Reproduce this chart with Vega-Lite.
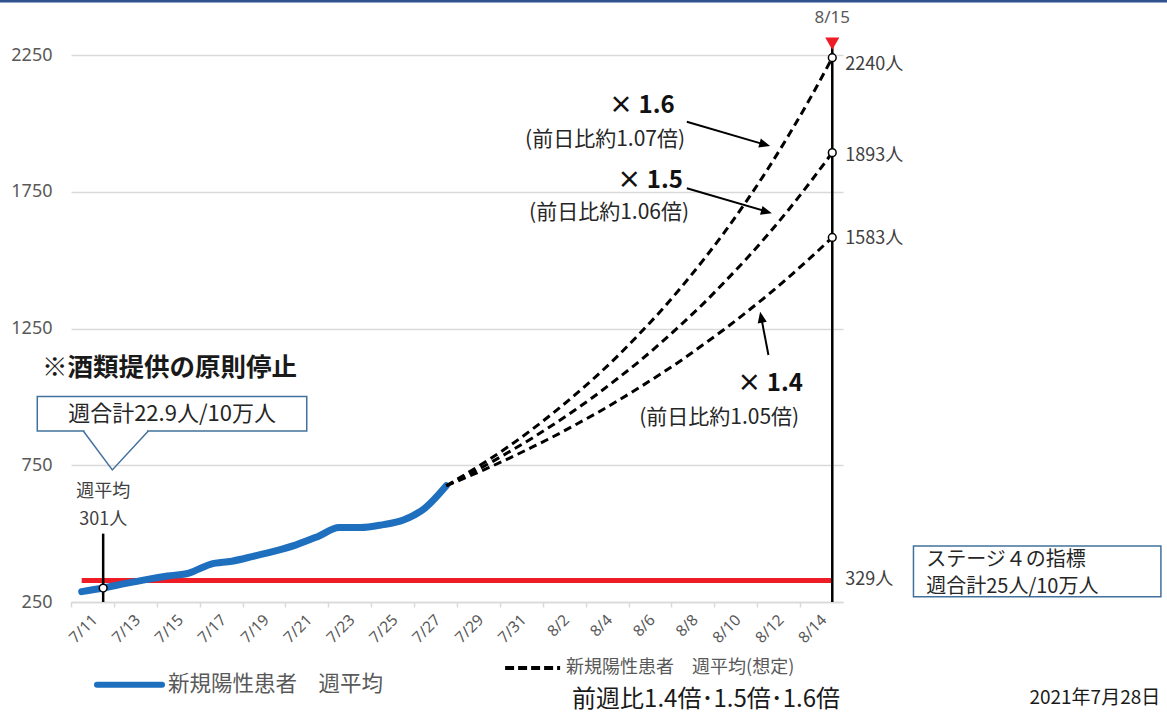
{
  "$schema": "https://vega.github.io/schema/vega-lite/v6.json",
  "width": 772,
  "height": 547,
  "autosize": {"type": "none"},
  "padding": {"left": 71, "top": 55, "right": 324, "bottom": 113},
  "background": "white",
  "config": {"view": {"stroke": null}, "font": "Noto Sans CJK JP"},
  "encoding": {
    "x": {
      "field": "date", "type": "temporal",
      "scale": {"type": "utc", "domain": [{"year": 2021, "month": 7, "date": 10, "hours": 12, "utc": true}, {"year": 2021, "month": 8, "date": 15, "hours": 12, "utc": true}]},
      "axis": {
        "values": [
          {"year": 2021, "month": 7, "date": 11, "utc": true},
          {"year": 2021, "month": 7, "date": 13, "utc": true},
          {"year": 2021, "month": 7, "date": 15, "utc": true},
          {"year": 2021, "month": 7, "date": 17, "utc": true},
          {"year": 2021, "month": 7, "date": 19, "utc": true},
          {"year": 2021, "month": 7, "date": 21, "utc": true},
          {"year": 2021, "month": 7, "date": 23, "utc": true},
          {"year": 2021, "month": 7, "date": 25, "utc": true},
          {"year": 2021, "month": 7, "date": 27, "utc": true},
          {"year": 2021, "month": 7, "date": 29, "utc": true},
          {"year": 2021, "month": 7, "date": 31, "utc": true},
          {"year": 2021, "month": 8, "date": 2, "utc": true},
          {"year": 2021, "month": 8, "date": 4, "utc": true},
          {"year": 2021, "month": 8, "date": 6, "utc": true},
          {"year": 2021, "month": 8, "date": 8, "utc": true},
          {"year": 2021, "month": 8, "date": 10, "utc": true},
          {"year": 2021, "month": 8, "date": 12, "utc": true},
          {"year": 2021, "month": 8, "date": 14, "utc": true}
        ],
        "labelExpr": "utcFormat(datum.value, '%-m/%-d')",
        "labelAngle": -45,
        "labelFontSize": 15.5,
        "labelColor": "#595959",
        "labelFont": "Noto Sans",
        "labelOverlap": false,
        "labelFlush": false,
        "labelBound": false,
        "tickOffset": -10.72,
        "labelOffset": 18.5,
        "tickColor": "#D9D9D9",
        "tickSize": 5,
        "tickWidth": 1.5,
        "domainColor": "#D9D9D9",
        "domainWidth": 1.5,
        "grid": false,
        "title": null,
        "labelPadding": 5
      }
    },
    "y": {
      "field": "v", "type": "quantitative",
      "scale": {"domain": [250, 2250], "nice": false, "zero": false},
      "axis": {
        "values": [250, 750, 1250, 1750, 2250],
        "format": "d",
        "grid": true, "gridColor": "#D9D9D9", "gridWidth": 1.5,
        "domain": false, "ticks": false,
        "labelPadding": 19, "labelFontSize": 18, "labelColor": "#595959", "labelFont": "Noto Sans",
        "title": null
      }
    }
  },
  "layer": [
    {
      "data": {"values": [{"date": "2021-07-07T04:32:00Z", "date2": "2021-08-31T14:53:00Z", "v": 2447}]},
      "mark": {"type": "rule", "color": "#2F528F", "strokeWidth": 3},
      "encoding": {"x2": {"field": "date2"}}
    },
    {
      "data": {"values": [{"date": "2021-07-11", "v": 329}, {"date": "2021-08-15", "v": 329}]},
      "mark": {"type": "line", "color": "#EE1C25", "strokeWidth": 5},
      "encoding": {}
    },
    {
      "data": {"values": [
        {"date": "2021-07-11", "v": 288},
        {"date": "2021-07-12", "v": 301},
        {"date": "2021-07-13", "v": 317},
        {"date": "2021-07-14", "v": 332},
        {"date": "2021-07-15", "v": 345},
        {"date": "2021-07-16", "v": 356},
        {"date": "2021-07-17", "v": 388},
        {"date": "2021-07-18", "v": 399},
        {"date": "2021-07-19", "v": 417},
        {"date": "2021-07-20", "v": 436},
        {"date": "2021-07-21", "v": 459},
        {"date": "2021-07-22", "v": 489},
        {"date": "2021-07-23", "v": 522},
        {"date": "2021-07-24", "v": 522},
        {"date": "2021-07-25", "v": 532},
        {"date": "2021-07-26", "v": 550},
        {"date": "2021-07-27", "v": 593},
        {"date": "2021-07-28", "v": 675}
      ]},
      "mark": {"type": "line", "color": "#1F6FBF", "strokeWidth": 7, "strokeCap": "round", "strokeJoin": "round", "interpolate": "monotone"},
      "encoding": {}
    },
    {
      "data": {"values": [
        {"s": "1.6", "date": "2021-07-28", "v": 675}, {"s": "1.6", "date": "2021-07-29", "v": 722}, {"s": "1.6", "date": "2021-07-30", "v": 771}, {"s": "1.6", "date": "2021-07-31", "v": 824}, {"s": "1.6", "date": "2021-08-01", "v": 881}, {"s": "1.6", "date": "2021-08-02", "v": 942}, {"s": "1.6", "date": "2021-08-03", "v": 1007}, {"s": "1.6", "date": "2021-08-04", "v": 1076}, {"s": "1.6", "date": "2021-08-05", "v": 1150}, {"s": "1.6", "date": "2021-08-06", "v": 1230}, {"s": "1.6", "date": "2021-08-07", "v": 1314}, {"s": "1.6", "date": "2021-08-08", "v": 1405}, {"s": "1.6", "date": "2021-08-09", "v": 1502}, {"s": "1.6", "date": "2021-08-10", "v": 1605}, {"s": "1.6", "date": "2021-08-11", "v": 1716}, {"s": "1.6", "date": "2021-08-12", "v": 1834}, {"s": "1.6", "date": "2021-08-13", "v": 1961}, {"s": "1.6", "date": "2021-08-14", "v": 2096}, {"s": "1.6", "date": "2021-08-15", "v": 2240},
        {"s": "1.5", "date": "2021-07-28", "v": 675}, {"s": "1.5", "date": "2021-07-29", "v": 715}, {"s": "1.5", "date": "2021-07-30", "v": 757}, {"s": "1.5", "date": "2021-07-31", "v": 802}, {"s": "1.5", "date": "2021-08-01", "v": 849}, {"s": "1.5", "date": "2021-08-02", "v": 899}, {"s": "1.5", "date": "2021-08-03", "v": 952}, {"s": "1.5", "date": "2021-08-04", "v": 1008}, {"s": "1.5", "date": "2021-08-05", "v": 1068}, {"s": "1.5", "date": "2021-08-06", "v": 1130}, {"s": "1.5", "date": "2021-08-07", "v": 1197}, {"s": "1.5", "date": "2021-08-08", "v": 1268}, {"s": "1.5", "date": "2021-08-09", "v": 1342}, {"s": "1.5", "date": "2021-08-10", "v": 1422}, {"s": "1.5", "date": "2021-08-11", "v": 1505}, {"s": "1.5", "date": "2021-08-12", "v": 1594}, {"s": "1.5", "date": "2021-08-13", "v": 1688}, {"s": "1.5", "date": "2021-08-14", "v": 1788}, {"s": "1.5", "date": "2021-08-15", "v": 1893},
        {"s": "1.4", "date": "2021-07-28", "v": 675}, {"s": "1.4", "date": "2021-07-29", "v": 708}, {"s": "1.4", "date": "2021-07-30", "v": 742}, {"s": "1.4", "date": "2021-07-31", "v": 778}, {"s": "1.4", "date": "2021-08-01", "v": 816}, {"s": "1.4", "date": "2021-08-02", "v": 855}, {"s": "1.4", "date": "2021-08-03", "v": 897}, {"s": "1.4", "date": "2021-08-04", "v": 940}, {"s": "1.4", "date": "2021-08-05", "v": 986}, {"s": "1.4", "date": "2021-08-06", "v": 1034}, {"s": "1.4", "date": "2021-08-07", "v": 1084}, {"s": "1.4", "date": "2021-08-08", "v": 1136}, {"s": "1.4", "date": "2021-08-09", "v": 1192}, {"s": "1.4", "date": "2021-08-10", "v": 1249}, {"s": "1.4", "date": "2021-08-11", "v": 1310}, {"s": "1.4", "date": "2021-08-12", "v": 1373}, {"s": "1.4", "date": "2021-08-13", "v": 1440}, {"s": "1.4", "date": "2021-08-14", "v": 1510}, {"s": "1.4", "date": "2021-08-15", "v": 1583}
      ]},
      "mark": {"type": "line", "color": "black", "strokeWidth": 3, "strokeDash": [8, 5], "interpolate": "monotone"},
      "encoding": {"detail": {"field": "s", "type": "nominal"}}
    },
    {
      "data": {"values": [{"date": "2021-08-15", "v": 250, "v2": 2292}, {"date": "2021-07-12", "v": 250, "v2": 500}]},
      "mark": {"type": "rule", "color": "black", "strokeWidth": 2.5},
      "encoding": {"y2": {"field": "v2"}}
    },
    {
      "data": {"values": [{"date": "2021-08-15", "v": 2292}]},
      "mark": {"type": "point", "shape": "triangle-down", "filled": true, "color": "#EE1C25", "size": 200, "opacity": 1},
      "encoding": {}
    },
    {
      "data": {"values": [{"date": "2021-08-15", "v": 2240}, {"date": "2021-08-15", "v": 1893}, {"date": "2021-08-15", "v": 1583}, {"date": "2021-07-12", "v": 301}]},
      "mark": {"type": "point", "shape": "circle", "filled": false, "fill": "white", "stroke": "black", "strokeWidth": 1.5, "size": 60, "opacity": 1, "fillOpacity": 1},
      "encoding": {}
    },
    {
      "data": {"values": [{"date": "2021-08-15", "v": 2212, "label": "2240人"}, {"date": "2021-08-15", "v": 1881, "label": "1893人"}, {"date": "2021-08-15", "v": 1577, "label": "1583人"}, {"date": "2021-08-15", "v": 330, "label": "329人"}]},
      "mark": {"type": "text", "align": "left", "dx": 13, "fontSize": 18, "color": "#404040"},
      "encoding": {"text": {"field": "label"}}
    },
    {
      "data": {"values": [{"date": "2021-08-15", "v": 2385, "label": "8/15"}]},
      "mark": {"type": "text", "align": "center", "fontSize": 17, "color": "#595959", "font": "Noto Sans"},
      "encoding": {"text": {"field": "label"}}
    },
    {
      "data": {"values": [{"date": "2021-07-12", "v": 652, "label": "週平均"}, {"date": "2021-07-12", "v": 550, "label": "301人"}]},
      "mark": {"type": "text", "align": "center", "fontSize": 18, "color": "#404040"},
      "encoding": {"text": {"field": "label"}}
    },
    {
      "data": {"values": [{"date": "2021-07-09T03:32:00Z", "v": 1106, "label": "※酒類提供の原則停止"}]},
      "mark": {"type": "text", "align": "left", "fontSize": 25.5, "fontWeight": "bold", "color": "#1A1A1A"},
      "encoding": {"text": {"field": "label"}}
    },
    {
      "data": {"values": [{"date": "2021-07-08T22:16:00Z", "date2": "2021-07-21T11:50:00Z", "v": 875, "v2": 1001}]},
      "mark": {"type": "rect", "fill": "white", "stroke": "#41719C", "strokeWidth": 1.5},
      "encoding": {"x2": {"field": "date2"}, "y2": {"field": "v2"}}
    },
    {
      "data": {"values": [{"date": "2021-07-11T03:07:00Z", "date2": "2021-07-14T01:05:00Z", "v": 875}]},
      "mark": {"type": "rule", "color": "white", "strokeWidth": 3},
      "encoding": {"x2": {"field": "date2"}}
    },
    {
      "data": {"values": [{"date": "2021-07-11T01:46:00Z", "v": 875, "o": 1}, {"date": "2021-07-12T10:14:00Z", "v": 733, "o": 2}, {"date": "2021-07-14T02:31:00Z", "v": 875, "o": 3}]},
      "mark": {"type": "line", "color": "#41719C", "strokeWidth": 1.5},
      "encoding": {"order": {"field": "o", "type": "quantitative"}}
    },
    {
      "data": {"values": [{"date": "2021-07-15T05:04:00Z", "v": 937, "label": "週合計22.9人/10万人"}]},
      "mark": {"type": "text", "align": "center", "fontSize": 22, "color": "#262626"},
      "encoding": {"text": {"field": "label"}}
    },
    {
      "data": {"values": [{"date": "2021-08-18T18:52:00Z", "date2": "2021-08-30T07:48:00Z", "v": 269, "v2": 455}]},
      "mark": {"type": "rect", "fill": "white", "stroke": "#41719C", "strokeWidth": 1.5},
      "encoding": {"x2": {"field": "date2"}, "y2": {"field": "v2"}}
    },
    {
      "data": {"values": [{"date": "2021-08-19T09:06:00Z", "v": 404, "label": "ステージ４の指標"}, {"date": "2021-08-19T09:06:00Z", "v": 306, "label": "週合計25人/10万人"}]},
      "mark": {"type": "text", "align": "left", "fontSize": 20, "color": "#262626"},
      "encoding": {"text": {"field": "label"}}
    },
    {
      "data": {"values": [{"date": "2021-08-06T02:51:00Z", "v": 2064, "label": "× 1.6"}, {"date": "2021-08-06T12:09:00Z", "v": 1790, "label": "× 1.5"}, {"date": "2021-08-12T02:28:00Z", "v": 1046, "label": "× 1.4"}]},
      "mark": {"type": "text", "align": "center", "fontSize": 24, "fontWeight": "bold", "color": "#111111"},
      "encoding": {"text": {"field": "label"}}
    },
    {
      "data": {"values": [{"date": "2021-08-04T09:46:00Z", "v": 1941, "label": "(前日比約1.07倍)"}, {"date": "2021-08-04T14:14:00Z", "v": 1673, "label": "(前日比約1.06倍)"}, {"date": "2021-08-09T17:23:00Z", "v": 924, "label": "(前日比約1.05倍)"}]},
      "mark": {"type": "text", "align": "center", "fontSize": 21, "color": "#262626"},
      "encoding": {"text": {"field": "label"}}
    },
    {
      "data": {"values": [
        {"date": "2021-08-08T05:12:00Z", "v": 2006, "date2": "2021-08-11T17:46:00Z", "v2": 1925},
        {"date": "2021-08-08T05:12:00Z", "v": 1763, "date2": "2021-08-11T20:52:00Z", "v2": 1679},
        {"date": "2021-08-12T00:33:00Z", "v": 1153, "date2": "2021-08-11T16:44:00Z", "v2": 1286}
      ]},
      "mark": {"type": "rule", "color": "black", "strokeWidth": 2},
      "encoding": {"x2": {"field": "date2"}, "y2": {"field": "v2"}}
    },
    {
      "data": {"values": [{"date": "2021-08-12T02:28:00Z", "v": 1917}, {"date": "2021-08-12T04:22:00Z", "v": 1671}]},
      "mark": {"type": "point", "shape": "M0,0L-1,-0.42L-1,0.42Z", "filled": true, "color": "black", "size": 484, "opacity": 1, "angle": 16},
      "encoding": {}
    },
    {
      "data": {"values": [{"date": "2021-08-11T15:16:00Z", "v": 1311}]},
      "mark": {"type": "point", "shape": "M0,0L-1,-0.42L-1,0.42Z", "filled": true, "color": "black", "size": 484, "opacity": 1, "angle": 259},
      "encoding": {}
    },
    {
      "data": {"values": [{"date": "2021-07-11T17:07:00Z", "date2": "2021-07-14T17:52:00Z", "v": -53}]},
      "mark": {"type": "rule", "color": "#1F6FBF", "strokeWidth": 6, "strokeCap": "round"},
      "encoding": {"x2": {"field": "date2"}}
    },
    {
      "data": {"values": [{"date": "2021-07-30T17:50:00Z", "date2": "2021-08-02T07:24:00Z", "v": 9}]},
      "mark": {"type": "rule", "color": "black", "strokeWidth": 4, "strokeDash": [9, 4]},
      "encoding": {"x2": {"field": "date2"}}
    },
    {
      "data": {"values": [{"date": "2021-07-15T00:35:00Z", "v": -53, "label": "新規陽性患者　週平均"}]},
      "mark": {"type": "text", "align": "left", "fontSize": 21.5, "color": "#595959"},
      "encoding": {"text": {"field": "label"}}
    },
    {
      "data": {"values": [{"date": "2021-08-02T14:07:00Z", "v": 9, "label": "新規陽性患者　週平均(想定)"}]},
      "mark": {"type": "text", "align": "left", "fontSize": 18, "color": "#595959"},
      "encoding": {"text": {"field": "label"}}
    },
    {
      "data": {"values": [{"date": "2021-08-02T20:50:00Z", "v": -110, "label": "前週比1.4倍･1.5倍･1.6倍"}]},
      "mark": {"type": "text", "align": "left", "fontSize": 24, "color": "#1A1A1A"},
      "encoding": {"text": {"field": "label"}}
    },
    {
      "data": {"values": [{"date": "2021-08-30T07:02:00Z", "v": -101, "label": "2021年7月28日"}]},
      "mark": {"type": "text", "align": "right", "fontSize": 19, "color": "#1A1A1A"},
      "encoding": {"text": {"field": "label"}}
    }
  ]
}
